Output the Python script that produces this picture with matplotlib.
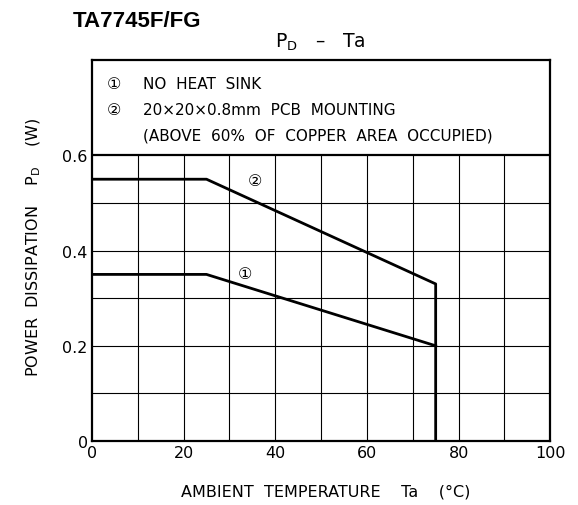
import numpy as np
import matplotlib.pyplot as plt

# derating curves
ta_1 = [0, 25, 75]
pd_1 = [0.35, 0.35, 0.20]
ta_2 = [0, 25, 75, 75]
pd_2 = [0.55, 0.55, 0.33, 0.0]

x_ticks = [0, 20, 40, 60, 80, 100]
y_ticks = [0, 0.2, 0.4, 0.6]
y_tick_labels = ["0", "0.2", "0.4", "0.6"]

legend_lines = ["NO  HEAT  SINK",
                "20\u00d720\u00d70.8mm  PCB  MOUNTING",
                "(ABOVE  60%  OF  COPPER  AREA  OCCUPIED)"]

fam = ["DejaVu Sans", "Noto Sans CJK JP"]

fig = plt.figure(figsize=(5.78, 5.06), dpi=100)
ax = fig.add_axes([0.159, 0.1265, 0.793, 0.7525])
ax.set_xlim(0, 100)
ax.set_ylim(0, 0.8)

# grid only in the plot part (below 0.6)
for x in range(10, 100, 10):
    ax.plot([x, x], [0, 0.6], color="black", lw=0.8)
for y in np.arange(0.1, 0.6, 0.1):
    ax.plot([0, 100], [y, y], color="black", lw=0.8)
ax.plot([0, 100], [0.6, 0.6], color="black", lw=1.6)

ax.plot(ta_1, pd_1, color="black", lw=2.0)
ax.plot(ta_2, pd_2, color="black", lw=2.0)

ax.text(35.5, 0.548, "\u2461", fontsize=11.5, ha="center", va="center", family=fam)
ax.text(33.5, 0.352, "\u2460", fontsize=11.5, ha="center", va="center", family=fam)

# legend box text
ax.text(4.9, 0.751, "\u2460", fontsize=11.5, ha="center", va="center", family=fam)
ax.text(4.9, 0.696, "\u2461", fontsize=11.5, ha="center", va="center", family=fam)
for i, s in enumerate(legend_lines):
    ax.text(11.2, 0.751 - i * 0.0545, s, fontsize=11, ha="left", va="center", family=fam)

for sp in ax.spines.values():
    sp.set_linewidth(1.6)

ax.set_xticks(x_ticks)
ax.set_xticklabels([str(v) for v in x_ticks], family="DejaVu Sans", fontsize=11.5)
ax.set_yticks(y_ticks)
ax.set_yticklabels(y_tick_labels, family="DejaVu Sans", fontsize=11.5)
ax.tick_params(length=0, pad=3)

fig.text(0.554, 0.905, "P$_\\mathregular{D}$   \u2013   Ta", fontsize=13.5, ha="center",
         va="baseline", family="DejaVu Sans")
fig.text(0.126, 0.947, "TA7745F/FG", fontsize=16, fontweight="bold",
         family="Liberation Sans", ha="left", va="baseline")

fig.text(0.564, 0.028, "AMBIENT  TEMPERATURE    Ta    (\u00b0C)", fontsize=11.5,
         ha="center", va="center", family=fam)
fig.text(0.059, 0.512, "POWER  DISSIPATION    P$_\\mathregular{D}$    (W)", fontsize=11.5,
         ha="center", va="center", rotation=90, family=fam)

fig.savefig("out.png", dpi=100)
